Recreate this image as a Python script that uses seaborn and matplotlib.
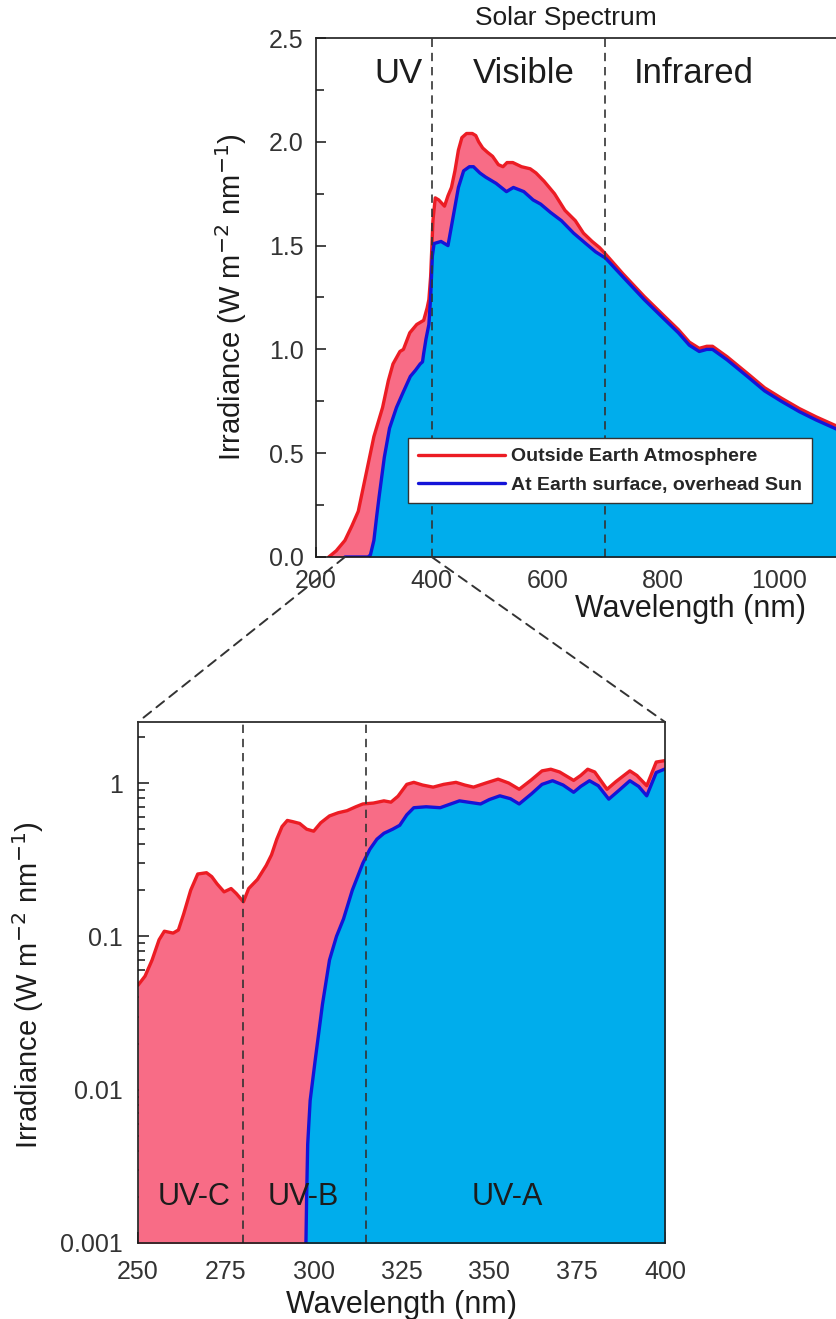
"""
Solar spectrum: full range (top) and UV close-up on a log scale (bottom)
"""
import matplotlib
matplotlib.use("Agg")
import matplotlib.pyplot as plt
from matplotlib.patches import ConnectionPatch
from matplotlib.ticker import MultipleLocator, LogLocator, FuncFormatter, NullFormatter
import seaborn as sns

# --- full spectrum, wavelength (nm) vs irradiance (W m-2 nm-1) ---
wl_space = [222, 235, 250, 262, 273, 285, 300, 315, 325, 333, 345, 351, 362, 374,
            386, 392, 395, 398, 402, 406, 412, 422, 428, 434, 440, 446, 452, 460,
            470, 476, 481, 488, 496, 505, 515, 523, 530, 540, 555, 570, 580, 594,
            612, 630, 648, 662, 677, 690, 700, 730, 767, 800, 826, 845, 862, 875,
            885, 910, 945, 975, 1004, 1035, 1064, 1100]
irr_space = [0.0, 0.03, 0.08, 0.15, 0.22, 0.38, 0.58, 0.72, 0.85, 0.93, 0.99, 1.00,
             1.08, 1.12, 1.14, 1.20, 1.24, 1.35, 1.62, 1.73, 1.72, 1.69, 1.74, 1.78,
             1.86, 1.96, 2.02, 2.04, 2.04, 2.03, 2.00, 1.97, 1.95, 1.93, 1.89, 1.88,
             1.90, 1.90, 1.88, 1.87, 1.85, 1.81, 1.75, 1.67, 1.62, 1.56, 1.52, 1.49,
             1.46, 1.365, 1.255, 1.165, 1.095, 1.035, 1.005, 1.015, 1.015, 0.965,
             0.885, 0.815, 0.765, 0.715, 0.675, 0.63]
wl_ground = [250, 290, 294, 300, 305, 309, 318, 327, 339, 350, 363, 372, 380, 384,
             386, 390, 395, 398, 401, 404, 416, 428, 437, 446, 455, 465, 472, 483,
             493, 511, 529, 541, 559, 575, 588, 605, 624, 645, 666, 683, 700, 730,
             767, 800, 826, 845, 862, 875, 885, 910, 945, 975, 1004, 1035, 1064, 1100]
irr_ground = [0.0, 0.0, 0.01, 0.08, 0.20, 0.29, 0.48, 0.62, 0.72, 0.79, 0.87, 0.90,
              0.93, 0.94, 0.98, 1.05, 1.12, 1.25, 1.45, 1.51, 1.52, 1.50, 1.64, 1.78,
              1.86, 1.88, 1.88, 1.85, 1.83, 1.80, 1.76, 1.78, 1.76, 1.72, 1.70, 1.66,
              1.62, 1.56, 1.51, 1.47, 1.44, 1.35, 1.24, 1.15, 1.08, 1.02, 0.99, 1.00,
              1.00, 0.95, 0.87, 0.80, 0.75, 0.70, 0.66, 0.615]

# --- UV close-up ---
uv_wl_space = [250, 252, 254, 256, 257.5, 260, 261.5, 263, 265, 267, 269.5, 271,
               272.5, 274.5, 276.5, 278, 280, 281.5, 284, 286.5, 288, 289.5, 291,
               292.5, 294, 296, 298, 300, 302, 304.5, 307, 309.5, 312, 314, 317, 320,
               322, 324, 326.5, 328.5, 331, 334, 337, 340.5, 343, 345.5, 349, 352.5,
               355.5, 358.5, 362, 365, 367.5, 370, 374, 376, 378, 380, 383.5, 386,
               390, 392, 394.8, 397.5, 400]
uv_irr_space = [0.048, 0.055, 0.07, 0.095, 0.108, 0.105, 0.11, 0.14, 0.2, 0.255,
                0.26, 0.245, 0.22, 0.195, 0.205, 0.19, 0.168, 0.205, 0.235, 0.29,
                0.34, 0.43, 0.52, 0.57, 0.56, 0.545, 0.5, 0.485, 0.55, 0.61, 0.64,
                0.66, 0.7, 0.73, 0.74, 0.765, 0.75, 0.82, 0.98, 1.01, 0.97, 0.94,
                0.98, 1.01, 0.97, 0.94, 1.0, 1.06, 1.0, 0.91, 1.05, 1.2, 1.23, 1.18,
                1.04, 1.12, 1.23, 1.18, 0.91, 1.02, 1.2, 1.12, 0.96, 1.37, 1.40]
uv_wl_ground = [297.6, 297.8, 298, 298.3, 299, 300.5, 302.5, 304.5, 306.5, 308.5,
                311, 314, 316, 318, 320, 322.5, 324.5, 326.5, 328.5, 332, 336, 339,
                341.5, 344, 347.5, 350, 353, 356, 358.5, 362, 365, 368, 371, 374,
                376, 378.5, 381, 384, 387, 390, 392.5, 394.8, 397.5, 400]
uv_irr_ground = [0.0005, 0.001, 0.002, 0.0044, 0.0085, 0.016, 0.036, 0.07, 0.1,
                 0.13, 0.2, 0.3, 0.37, 0.43, 0.47, 0.5, 0.53, 0.62, 0.69, 0.70, 0.69,
                 0.73, 0.765, 0.75, 0.73, 0.78, 0.825, 0.79, 0.73, 0.85, 0.98, 1.035,
                 0.97, 0.87, 0.95, 1.035, 0.96, 0.785, 0.9, 1.035, 0.95, 0.825, 1.17,
                 1.235]

SERIES = ['Outside Earth Atmosphere', 'At Earth surface, overhead Sun']
BOUNDS = [400, 700]
BAND_NAMES = ['UV', 'Visible', 'Infrared']
BAND_X = [342, 559, 853]
UV_BOUNDS = [280, 315]
UV_NAMES = ['UV-C', 'UV-B', 'UV-A']
UV_X = [266, 297, 355]
ZOOM = (250, 400)

PINK = '#F86C86'
CYAN = '#00ADEC'
RED = '#EC1C24'
BLUE = '#1414D8'
INK = '#1c1c1c'
DASH = (0, (5, 3.5))

sns.set_theme(style='ticks')
plt.rcParams['font.family'] = ['Liberation Sans', 'DejaVu Sans']
plt.rcParams['axes.edgecolor'] = INK
plt.rcParams['axes.linewidth'] = 1.2

W, H = 837, 1319
fig = plt.figure(figsize=(W / 100, H / 100), dpi=100)

# ---------------- top panel ----------------
ax = fig.add_axes([316 / W, 1 - 557 / H, 521 / W, 519 / H])
ax.fill_between(wl_space, irr_space, 0, color=PINK, lw=0)
ax.fill_between(wl_ground, irr_ground, 0, color=CYAN, lw=0)
sns.lineplot(x=wl_space, y=irr_space, ax=ax, color=RED, lw=2.4,
             label=SERIES[0], sort=False, estimator=None)
sns.lineplot(x=wl_ground, y=irr_ground, ax=ax, color=BLUE, lw=2.4,
             label=SERIES[1], sort=False, estimator=None)
for b in BOUNDS:
    ax.axvline(b, color='#333333', ls=DASH, lw=1.2)
for name, x in zip(BAND_NAMES, BAND_X):
    ax.text(x, 2.33, name, ha='center', va='center', fontsize=25, color=INK)

ax.set_xlim(200, 1100)
ax.set_ylim(0, 2.5)
ax.xaxis.set_major_locator(MultipleLocator(200))
ax.yaxis.set_major_locator(MultipleLocator(0.5))
ax.yaxis.set_minor_locator(MultipleLocator(0.25))
ax.yaxis.set_major_formatter(FuncFormatter(lambda v, p: f'{v:.1f}'))
ax.tick_params(which='both', direction='in', width=1.2, labelsize=18,
               labelcolor='#333333')
ax.tick_params(axis='x', pad=9)
ax.tick_params(axis='y', pad=9)
ax.tick_params(which='major', length=7)
ax.tick_params(which='minor', length=6)
ax.spines['right'].set_visible(False)
ax.set_xlabel('Wavelength (nm)', fontsize=22, color=INK)
ax.set_ylabel('Irradiance (W m$^{-2}$ nm$^{-1}$)', fontsize=21, color=INK)
ax.xaxis.set_label_coords(0.718, -0.071)
ax.yaxis.set_label_coords(-0.128, 0.5)
ax.legend(loc='upper left', bbox_to_anchor=(0.1766, 0.2293), borderaxespad=0,
          prop={'weight': 'bold', 'size': 14}, handlelength=4.5,
          handletextpad=0.3, labelspacing=0.55, borderpad=0.5,
          fancybox=False, framealpha=1, edgecolor='#333333')
fig.text(566 / W, 1 - 18 / H, 'Solar Spectrum', ha='center', va='center',
         fontsize=19, color=INK)

# ---------------- bottom panel ----------------
bx = fig.add_axes([138 / W, 1 - 1243 / H, 527 / W, 521 / H])
bx.set_yscale('log')
bx.fill_between(uv_wl_space, uv_irr_space, 1e-6, color=PINK, lw=0)
bx.fill_between(uv_wl_ground, uv_irr_ground, 1e-6, color=CYAN, lw=0)
sns.lineplot(x=uv_wl_space, y=uv_irr_space, ax=bx, color=RED, lw=2.4,
             sort=False, estimator=None)
sns.lineplot(x=uv_wl_ground, y=uv_irr_ground, ax=bx, color=BLUE, lw=2.4,
             sort=False, estimator=None)
for b in UV_BOUNDS:
    bx.axvline(b, color='#333333', ls=DASH, lw=1.2)
for name, x in zip(UV_NAMES, UV_X):
    bx.text(x, 0.002, name, ha='center', va='center', fontsize=22, color=INK)

bx.set_xlim(*ZOOM)
bx.set_ylim(0.001, 2.5)
bx.xaxis.set_major_locator(MultipleLocator(25))
bx.yaxis.set_major_locator(LogLocator(base=10))
bx.yaxis.set_minor_locator(LogLocator(base=10, subs=range(2, 10)))
bx.yaxis.set_major_formatter(FuncFormatter(lambda v, p: f'{v:g}'))
bx.yaxis.set_minor_formatter(NullFormatter())
bx.tick_params(which='both', direction='in', width=1.2, labelsize=18,
               labelcolor='#333333')
bx.tick_params(axis='x', pad=12)
bx.tick_params(axis='y', pad=11)
bx.tick_params(which='major', length=8)
bx.tick_params(which='minor', length=5)
bx.set_xlabel('Wavelength (nm)', fontsize=22, color=INK)
bx.set_ylabel('Irradiance (W m$^{-2}$ nm$^{-1}$)', fontsize=21, color=INK)
bx.xaxis.set_label_coords(0.5, -0.09)
bx.yaxis.set_label_coords(-0.175, 0.495)

# dashed lines linking the UV range of the top panel to the close-up
for xa, xb in zip(ZOOM, (0, 1)):
    con = ConnectionPatch(xyA=(xa, 0), coordsA=ax.transData,
                          xyB=(xb, 1), coordsB=bx.transAxes,
                          color='#333333', ls=DASH, lw=1.4)
    fig.add_artist(con)

fig.savefig('out.png', dpi=100)
